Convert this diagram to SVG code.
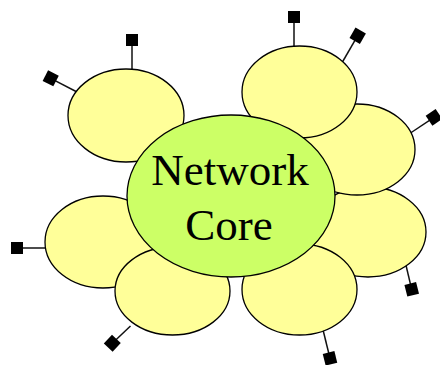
<svg xmlns="http://www.w3.org/2000/svg" width="440" height="365" viewBox="0 0 440 365">
<style>
.net{fill:#ffff99;stroke:#000;stroke-width:1.3}
.core{fill:#ccff66;stroke:#000;stroke-width:1.3}
.link{stroke:#111;stroke-width:1.5;fill:none}
.host{fill:#000}
.lbl{font-family:"Liberation Serif","Times New Roman",serif;font-size:45px;fill:#000;text-anchor:middle}
</style>
<defs>
<rect id="sq" x="-6" y="-6" width="12" height="12"/>
</defs>
<g id="connectors">
<line class="link" x1="132" y1="46" x2="132" y2="72"/>
<line class="link" x1="50.7" y1="78.3" x2="78" y2="92.5"/>
<line class="link" x1="294" y1="23" x2="294" y2="49"/>
<line class="link" x1="357.7" y1="35.7" x2="341" y2="64.5"/>
<line class="link" x1="434" y1="117.3" x2="409" y2="134"/>
<line class="link" x1="404.5" y1="259" x2="411.7" y2="289.3"/>
<line class="link" x1="322.8" y1="329" x2="330" y2="358.3"/>
<line class="link" x1="130.5" y1="326" x2="112.3" y2="343.3"/>
<line class="link" x1="17" y1="248" x2="48" y2="248"/>
</g>
<g id="host-a1" class="host"><use href="#sq" transform="translate(132,40)"/></g>
<g id="host-a2" class="host"><use href="#sq" transform="translate(50.7,78.3) rotate(27)"/></g>
<g id="host-b1" class="host"><use href="#sq" transform="translate(294,17)"/></g>
<g id="host-b2" class="host"><use href="#sq" transform="translate(357.7,35.7) rotate(30)"/></g>
<g id="host-c" class="host"><use href="#sq" transform="translate(434,117.3) rotate(-34)"/></g>
<g id="host-d" class="host"><use href="#sq" transform="translate(411.7,289.3) rotate(-14)"/></g>
<g id="host-e" class="host"><use href="#sq" transform="translate(330,358.3) rotate(-14)"/></g>
<g id="host-f" class="host"><use href="#sq" transform="translate(112.3,343.3) rotate(43)"/></g>
<g id="host-g" class="host"><use href="#sq" transform="translate(17,248)"/></g>
<g id="net-d"><ellipse class="net" cx="368" cy="232" rx="58" ry="45"/></g>
<g id="net-c"><ellipse class="net" cx="357" cy="149.5" rx="58" ry="45.5"/></g>
<g id="net-b"><ellipse class="net" cx="299.5" cy="92" rx="57.5" ry="46"/></g>
<g id="net-a"><ellipse class="net" cx="126" cy="115.5" rx="58" ry="46.5"/></g>
<g id="net-g"><ellipse class="net" cx="103" cy="242" rx="58" ry="46"/></g>
<g id="net-f"><ellipse class="net" cx="172.5" cy="291" rx="57.5" ry="44"/></g>
<g id="net-e"><ellipse class="net" cx="299.5" cy="289.5" rx="57.5" ry="45.5"/></g>
<g id="core">
<ellipse class="core" cx="231" cy="196" rx="104" ry="81"/>
<text class="lbl" x="230" y="185">Network</text>
<text class="lbl" x="229" y="240">Core</text>
</g>
</svg>
